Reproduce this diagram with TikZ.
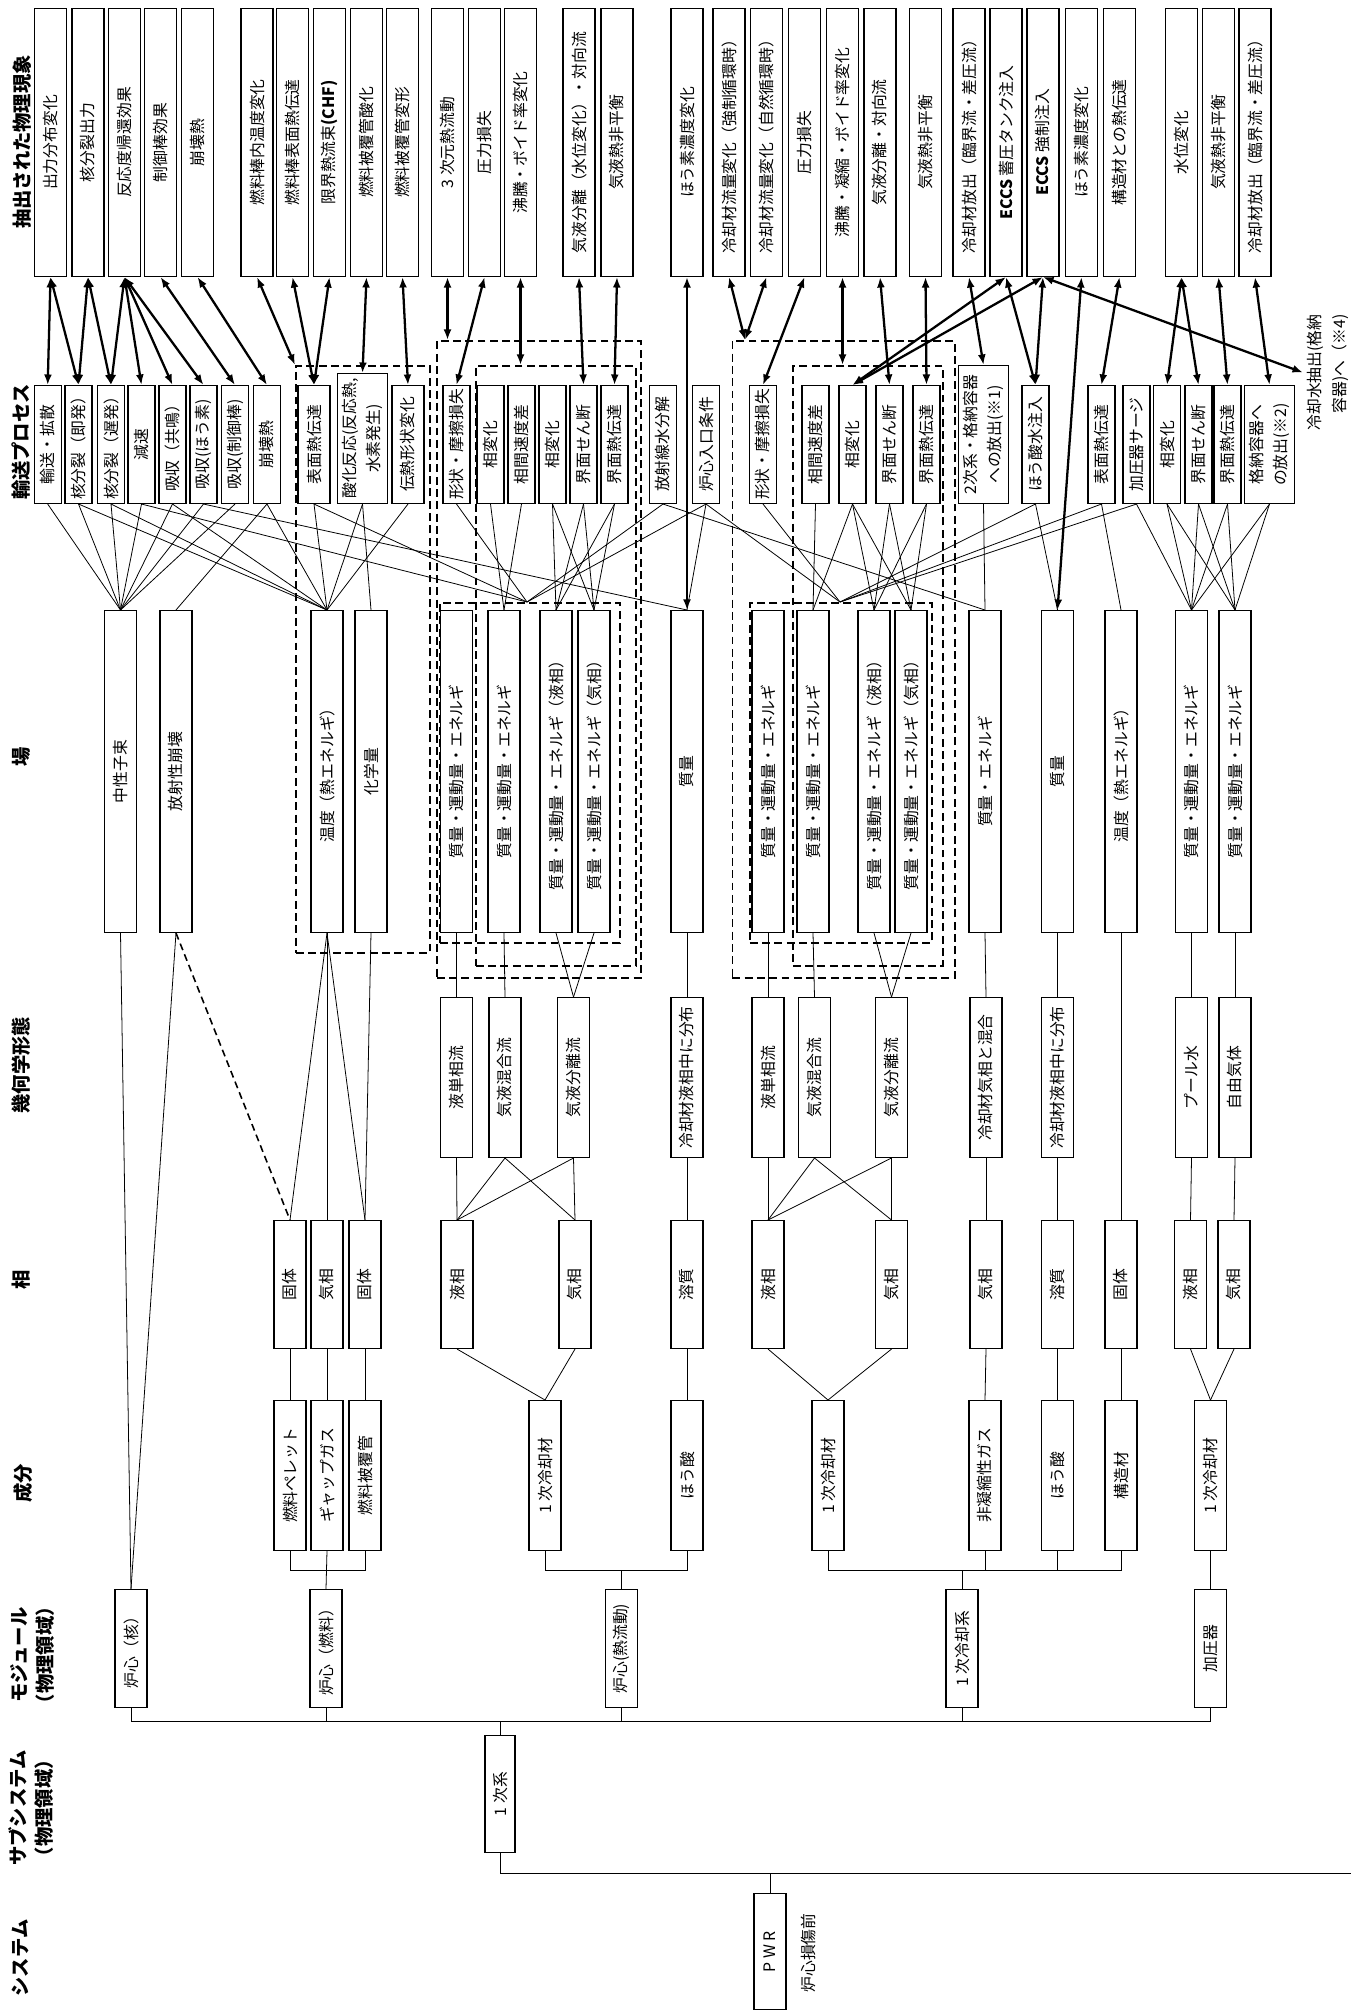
\documentclass[tikz,border=0pt]{standalone}
\usepackage{fontspec}
\setmainfont{Noto Sans CJK JP}
\usepackage{tikz}
\usetikzlibrary{arrows.meta,calc}
\newcommand{\vt}[1]{\rotatebox{90}{#1}}
\newcommand{\vtt}[2]{\rotatebox{90}{\begin{tabular}{@{}c@{}}#1\\#2\end{tabular}}}
\tikzset{
  box/.style={draw,line width=0.6pt,inner sep=0pt,anchor=north,minimum width=0.64cm,
              font=\fontsize{9}{14}\selectfont},
  phbox/.style={box,minimum height=5.36cm},
  trbox/.style={box,minimum width=0.54cm,minimum height=2.36cm},
  fdbox/.style={box,minimum height=6.44cm},
  gmbox/.style={box,minimum height=3.2cm},
  psbox/.style={box,minimum height=2.56cm},
  cpbox/.style={box,minimum height=3cm},
  mdbox/.style={box,minimum height=2.36cm},
  grp/.style={draw,line width=1pt,dash pattern=on 4.5pt off 2.5pt,anchor=north west,inner sep=0pt},
  lab/.style={font=\fontsize{11}{15}\selectfont\bfseries},
  link/.style={line width=0.45pt},
  flow/.style={{Latex[length=6pt,width=4.5pt]}-{Latex[length=6pt,width=4.5pt]},line width=1.3pt},
}

\begin{document}
\begin{tikzpicture}[x=0.02cm,y=-0.02cm]
  \useasboundingbox (0,0) rectangle (1351,2011);
  % column titles
  \node[lab] (labPh) at (22,142) {\vt{抽出された物理現象}};
  \node[lab] (labTr) at (21,442) {\vt{輸送プロセス}};
  \node[lab] (labFd) at (21,757) {\vt{場}};
  \node[lab] (labGm) at (21,1065) {\vt{幾何学形態}};
  \node[lab] (labPs) at (21,1280) {\vt{相}};
  \node[lab] (labCp) at (23,1483) {\vt{成分}};
  \node[lab] (labMd) at (34,1655) {\vtt{モジュール}{（物理領域）}};
  \node[lab] (labSb) at (33,1808) {\vtt{サブシステム}{（物理領域）}};
  \node[lab] (labSy) at (20,1958) {\vt{システム}};

  % extracted phenomena
  \node[phbox] (ph1) at (50.5,8) {\vt{出力分布変化}};
  \node[phbox] (ph2) at (88,8) {\vt{核分裂出力}};
  \node[phbox] (ph3) at (124.5,8) {\vt{反応度帰還効果}};
  \node[phbox] (ph4) at (160.5,8) {\vt{制御棒効果}};
  \node[phbox] (ph5) at (197.5,8) {\vt{崩壊熱}};
  \node[phbox] (ph6) at (257,8) {\vt{燃料棒内温度変化}};
  \node[phbox] (ph7) at (292.5,8) {\vt{燃料棒表面熱伝達}};
  \node[phbox] (ph8) at (329.5,8) {\vt{限界熱流束\textbf{(CHF)}}};
  \node[phbox] (ph9) at (366.5,8) {\vt{燃料被覆管酸化}};
  \node[phbox] (ph10) at (402.5,8) {\vt{燃料被覆管変形}};
  \node[phbox] (ph11) at (447.5,8) {\vt{3 次元熱流動}};
  \node[phbox] (ph12) at (484.5,8) {\vt{圧力損失}};
  \node[phbox] (ph13) at (520.5,8) {\vt{沸騰・ボイド率変化}};
  \node[phbox] (ph14) at (579,8) {\vt{気液分離（水位変化）・対向流}};
  \node[phbox] (ph15) at (617,8) {\vt{気液熱非平衡}};
  \node[phbox] (ph16) at (687,8) {\vt{ほう素濃度変化}};
  \node[phbox] (ph17) at (729,8) {\vt{冷却材流量変化（強制循環時）}};
  \node[phbox] (ph18) at (766.5,8) {\vt{冷却材流量変化（自然循環時）}};
  \node[phbox] (ph19) at (804.5,8) {\vt{圧力損失}};
  \node[phbox] (ph20) at (842.5,8) {\vt{沸騰・凝縮・ボイド率変化}};
  \node[phbox] (ph21) at (880,8) {\vt{気液分離・対向流}};
  \node[phbox] (ph22) at (925.5,8) {\vt{気液熱非平衡}};
  \node[phbox] (ph23) at (969,8) {\vt{冷却材放出（臨界流・差圧流）}};
  \node[phbox] (ph24) at (1006,8) {\vt{\textbf{ECCS} 蓄圧タンク注入}};
  \node[phbox] (ph25) at (1043,8) {\vt{\textbf{ECCS} 強制注入}};
  \node[phbox] (ph26) at (1081.5,8) {\vt{ほう素濃度変化}};
  \node[phbox] (ph27) at (1119.5,8) {\vt{構造材との熱伝達}};
  \node[phbox] (ph28) at (1181.5,8) {\vt{水位変化}};
  \node[phbox] (ph29) at (1218.5,8) {\vt{気液熱非平衡}};
  \node[phbox] (ph30) at (1255,8) {\vt{冷却材放出（臨界流・差圧流）}};
  \node[box,draw=none,anchor=north west] (note4) at (1303,314) {\rotatebox{90}{\begin{tabular}{@{}r@{}}冷却水抽出(格納\\容器)へ（※4)\end{tabular}}};

  % transport processes
  \node[trbox] (tr1) at (47.7,385) {\vt{輸送・拡散}};
  \node[trbox] (tr2) at (78.5,385) {\vt{核分裂（即発）}};
  \node[trbox] (tr3) at (111,385) {\vt{核分裂（遅発）}};
  \node[trbox] (tr4) at (141.5,385) {\vt{減速}};
  \node[trbox] (tr5) at (172.5,385) {\vt{吸収（共鳴）}};
  \node[trbox] (tr6) at (203.5,385) {\vt{吸収(ほう素)}};
  \node[trbox] (tr7) at (235,385) {\vt{吸収(制御棒)}};
  \node[trbox] (tr8) at (267,385) {\vt{崩壊熱}};
  \node[trbox,minimum width=0.64cm] (tr9) at (314,385) {\vt{表面熱伝達}};
  \node[trbox,minimum width=0.98cm,minimum height=2.6cm] (tr10) at (362.5,373) {\vtt{酸化反応(反応熱,}{水素発生)}};
  \node[trbox,minimum width=0.64cm] (tr11) at (408,385) {\vt{伝熱形状変化}};
  \node[trbox] (tr12) at (456.5,385) {\vt{形状・摩擦損失}};
  \node[trbox] (tr13) at (490.5,385) {\vt{相変化}};
  \node[trbox] (tr14) at (521.5,385) {\vt{相間速度差}};
  \node[trbox] (tr15) at (552.5,385) {\vt{相変化}};
  \node[trbox] (tr16) at (583.5,385) {\vt{界面せん断}};
  \node[trbox] (tr17) at (614.5,385) {\vt{界面熱伝達}};
  \node[trbox] (tr18) at (663,385) {\vt{放射線水分解}};
  \node[trbox] (tr19) at (706,385) {\vt{炉心入口条件}};
  \node[trbox] (tr20) at (763,385) {\vt{形状・摩擦損失}};
  \node[trbox] (tr21) at (815.5,385) {\vt{相間速度差}};
  \node[trbox] (tr22) at (852.5,385) {\vt{相変化}};
  \node[trbox] (tr23) at (889.5,385) {\vt{界面せん断}};
  \node[trbox] (tr24) at (926.5,385) {\vt{界面熱伝達}};
  \node[trbox,minimum width=0.94cm,minimum height=2.76cm] (tr25) at (983.5,365) {\vtt{2次系・格納容器}{への放出(※1)}};
  \node[trbox] (tr26) at (1035.5,385) {\vt{ほう酸水注入}};
  \node[trbox] (tr27) at (1101.5,385) {\vt{表面熱伝達}};
  \node[trbox] (tr28) at (1136.5,385) {\vt{加圧器サージ}};
  \node[trbox] (tr29) at (1167,385) {\vt{相変化}};
  \node[trbox] (tr30) at (1198.5,385) {\vt{界面せん断}};
  \node[trbox] (tr31) at (1227.5,385) {\vt{界面熱伝達}};
  \node[trbox,minimum width=0.94cm] (tr32) at (1269.5,385) {\vtt{格納容器へ}{の放出(※2)}};

  % fields
  \node[fdbox] (fd1) at (120.5,610) {\vt{中性子束}};
  \node[fdbox] (fd2) at (176,610) {\vt{放射性崩壊}};
  \node[fdbox] (fd3) at (327,610) {\vt{温度（熱エネルギ）}};
  \node[fdbox] (fd4) at (371,610) {\vt{化学量}};
  \node[fdbox] (fd5) at (456.5,610) {\vt{質量・運動量・エネルギ}};
  \node[fdbox] (fd6) at (504,610) {\vt{質量・運動量・エネルギ}};
  \node[fdbox] (fd7) at (556,610) {\vt{質量・運動量・エネルギ（液相）}};
  \node[fdbox] (fd8) at (594,610) {\vt{質量・運動量・エネルギ（気相）}};
  \node[fdbox] (fd9) at (687,610) {\vt{質量}};
  \node[fdbox] (fd10) at (768,610) {\vt{質量・運動量・エネルギ}};
  \node[fdbox] (fd11) at (813,610) {\vt{質量・運動量・エネルギ}};
  \node[fdbox] (fd12) at (874,610) {\vt{質量・運動量・エネルギ（液相）}};
  \node[fdbox] (fd13) at (911,610) {\vt{質量・運動量・エネルギ（気相）}};
  \node[fdbox] (fd14) at (985,610) {\vt{質量・エネルギ}};
  \node[fdbox] (fd15) at (1057.5,610) {\vt{質量}};
  \node[fdbox] (fd16) at (1121,610) {\vt{温度（熱エネルギ）}};
  \node[fdbox] (fd17) at (1191.5,610) {\vt{質量・運動量・エネルギ}};
  \node[fdbox] (fd18) at (1235,610) {\vt{質量・運動量・エネルギ}};

  % geometry
  \node[gmbox] (gm1) at (456.5,997) {\vt{液単相流}};
  \node[gmbox] (gm2) at (505,997) {\vt{気液混合流}};
  \node[gmbox] (gm3) at (573.5,997) {\vt{気液分離流}};
  \node[gmbox] (gm4) at (687,997) {\vt{冷却材液相中に分布}};
  \node[gmbox] (gm5) at (768,997) {\vt{液単相流}};
  \node[gmbox] (gm6) at (814.5,997) {\vt{気液混合流}};
  \node[gmbox] (gm7) at (891.5,997) {\vt{気液分離流}};
  \node[gmbox] (gm8) at (986,997) {\vt{冷却材気相と混合}};
  \node[gmbox] (gm9) at (1057.5,997) {\vt{冷却材液相中に分布}};
  \node[gmbox] (gm10) at (1191.5,997) {\vt{プール水}};
  \node[gmbox] (gm11) at (1235,997) {\vt{自由気体}};

  % phases
  \node[psbox] (ps1) at (290,1220) {\vt{固体}};
  \node[psbox] (ps2) at (327,1220) {\vt{気相}};
  \node[psbox] (ps3) at (365,1220) {\vt{固体}};
  \node[psbox] (ps4) at (457,1220) {\vt{液相}};
  \node[psbox] (ps5) at (575,1220) {\vt{気相}};
  \node[psbox] (ps6) at (687,1220) {\vt{溶質}};
  \node[psbox] (ps7) at (768,1220) {\vt{液相}};
  \node[psbox] (ps8) at (891.5,1220) {\vt{気相}};
  \node[psbox] (ps9) at (986,1220) {\vt{気相}};
  \node[psbox] (ps10) at (1057.5,1220) {\vt{溶質}};
  \node[psbox] (ps11) at (1121,1220) {\vt{固体}};
  \node[psbox] (ps12) at (1190.5,1220) {\vt{液相}};
  \node[psbox] (ps13) at (1234,1220) {\vt{気相}};

  % components
  \node[cpbox] (cp1) at (290,1400) {\vt{燃料ペレット}};
  \node[cpbox] (cp2) at (327,1400) {\vt{ギャップガス}};
  \node[cpbox] (cp3) at (365,1400) {\vt{燃料被覆管}};
  \node[cpbox] (cp4) at (545,1400) {\vt{1 次冷却材}};
  \node[cpbox] (cp5) at (687,1400) {\vt{ほう酸}};
  \node[cpbox] (cp6) at (828,1400) {\vt{1 次冷却材}};
  \node[cpbox] (cp7) at (985,1400) {\vt{非凝縮性ガス}};
  \node[cpbox] (cp8) at (1057.5,1400) {\vt{ほう酸}};
  \node[cpbox] (cp9) at (1121,1400) {\vt{構造材}};
  \node[cpbox] (cp10) at (1210.5,1400) {\vt{1 次冷却材}};

  % modules, subsystem, system
  \node[mdbox] (md1) at (131,1589) {\vt{炉心（核）}};
  \node[mdbox] (md2) at (326,1589) {\vt{炉心（燃料）}};
  \node[mdbox] (md3) at (621.5,1589) {\vt{炉心(熱流動)}};
  \node[mdbox] (md4) at (962,1589) {\vt{1 次冷却系}};
  \node[mdbox] (md5) at (1210.5,1589) {\vt{加圧器}};
  \node[box,minimum width=0.6cm,minimum height=2.34cm] (sub1) at (500,1735) {\vt{1 次系}};
  \node[box,minimum height=2.32cm] (pwr) at (770,1893) {\vt{P W R}};
  \node[font=\fontsize{9}{11}\selectfont] (dmg) at (808,1953) {\vt{炉心損傷前}};

  % dashed groups
  \node[grp,minimum width=2.68cm,minimum height=11.74cm] (grpA) at (295,365) {};
  \node[grp,minimum width=4.08cm,minimum height=12.74cm] (grpBo) at (436,340) {};
  \node[grp,minimum width=3.2cm,minimum height=12cm] (grpBm) at (475,365) {};
  \node[grp,minimum width=3.6cm,minimum height=6.8cm] (grpBi) at (439,602) {};
  \node[grp,minimum width=4.45cm,minimum height=12.74cm] (grpCo) at (731.5,340) {};
  \node[grp,minimum width=3cm,minimum height=12cm] (grpCm) at (792,365) {};
  \node[grp,minimum width=3.64cm,minimum height=6.8cm] (grpCi) at (749,602) {};
  \coordinate (jB) at (527,602);
  \coordinate (jC) at (840,602);

  % transport -> field
  \foreach \a/\b in {tr1/fd1,tr2/fd1,tr3/fd1,tr4/fd1,tr5/fd1,tr6/fd1,tr7/fd1,tr8/fd2,
      tr2/fd3,tr3/fd3,tr5/fd3,tr8/fd3,tr9/fd3,tr10/fd3,tr11/fd3,tr10/fd4,tr6/fd9,tr19/fd9,
      tr13/fd6,tr14/fd6,tr15/fd7,tr15/fd8,tr16/fd7,tr16/fd8,tr17/fd7,tr17/fd8,
      tr21/fd11,tr22/fd11,tr22/fd12,tr22/fd13,tr23/fd12,tr23/fd13,tr24/fd12,tr24/fd13,
      tr18/fd14,tr25/fd14,tr26/fd15,tr27/fd16,tr28/fd17,tr29/fd17,tr29/fd18,
      tr30/fd17,tr30/fd18,tr31/fd17,tr31/fd18,tr32/fd17,tr32/fd18}
    \draw[link] (\a.south) -- (\b.north);
  \foreach \a in {tr4,tr9,tr12,tr18,tr19}
    \draw[link] (\a.south) -- (jB);
  \foreach \a in {tr19,tr20,tr26,tr27,tr28}
    \draw[link] (\a.south) -- (jC);

  % field -> geometry -> phase -> component
  \foreach \a/\b in {fd5/gm1,fd6/gm2,fd7/gm3,fd8/gm3,fd9/gm4,fd10/gm5,fd11/gm6,fd12/gm7,fd13/gm7,
      fd14/gm8,fd15/gm9,fd16/ps11,fd17/gm10,fd18/gm11,fd3/ps1,fd3/ps2,fd3/ps3,fd4/ps3,
      gm1/ps4,gm2/ps4,gm2/ps5,gm3/ps4,gm3/ps5,gm4/ps6,gm5/ps7,gm6/ps7,gm6/ps8,gm7/ps7,gm7/ps8,
      gm8/ps9,gm9/ps10,gm10/ps12,gm11/ps13,
      ps1/cp1,ps2/cp2,ps3/cp3,ps4/cp4,ps5/cp4,ps6/cp5,ps7/cp6,ps8/cp6,ps9/cp7,ps10/cp8,
      ps11/cp9,ps12/cp10,ps13/cp10,cp10/md5,fd1/md1,fd2/md1,cp2/md2}
    \draw[link] (\a.south) -- (\b.north);
  \draw[line width=0.9pt,dash pattern=on 4pt off 2.5pt] (fd2.south) -- (ps1.north);

  % buses
  \coordinate (cbus) at (0,1570);
  \coordinate (mbus) at (0,1721);
  \coordinate (sbus) at (0,1873);
  \coordinate (sysend) at (1351,1873);
  \draw[link] (cp1.south) -- (cp1.south |- cbus) -- (cp3.south |- cbus) -- (cp3.south);
  \draw[link] (cp4.south) -- (cp4.south |- cbus) -- (cp5.south |- cbus) -- (cp5.south);
  \draw[link] (md3.north) -- (md3.north |- cbus);
  \draw[link] (cp6.south) -- (cp6.south |- cbus) -- (cp9.south |- cbus) -- (cp9.south);
  \foreach \a in {cp7,cp8}
    \draw[link] (\a.south) -- (\a.south |- cbus);
  \draw[link] (md4.north) -- (md4.north |- cbus);
  \draw[link] (md1.south) -- (md1.south |- mbus) -- (md5.south |- mbus) -- (md5.south);
  \foreach \a in {md2,md3,md4}
    \draw[link] (\a.south) -- (\a.south |- mbus);
  \draw[link] (sub1.north) -- (sub1.north |- mbus);
  \draw[link] (sub1.south) |- (sysend);
  \draw[link] (pwr.north) -- (pwr.north |- sbus);

  % phenomena <-> processes
  \foreach \a/\b in {ph1/tr1,ph1/tr2,ph2/tr2,ph2/tr3,ph3/tr3,ph3/tr4,ph3/tr5,ph3/tr6,ph4/tr7,
      ph5/tr8,ph7/tr9,ph8/tr9,ph9/tr10,ph10/tr11,ph12/tr12,ph14/tr16,ph15/tr17,ph16/fd9,
      ph19/tr20,ph21/tr23,ph22/tr24,ph23/tr25,ph24/tr22,ph24/tr26,ph25/tr22,ph25/tr26,
      ph26/fd15,ph27/tr27,ph28/tr29,ph28/tr30,ph29/tr31,ph30/tr32}
    \draw[flow] (\a.south) -- (\b.north);
  \draw[flow] (ph6.south) -- (grpA.north west);
  \draw[flow] (ph11.south) -- (ph11.south |- grpBo.north);
  \draw[flow] (ph13.south) -- (ph13.south |- grpBm.north);
  \draw[flow] (ph17.south) -- ($(grpCo.north west)+(13.5,0)$);
  \draw[flow] (ph18.south) -- ($(grpCo.north west)+(13.5,0)$);
  \draw[flow] (ph20.south) -- (ph20.south |- grpCm.north);
  \draw[flow] (ph25.south) -- (note4.west);
\end{tikzpicture}
\end{document}
